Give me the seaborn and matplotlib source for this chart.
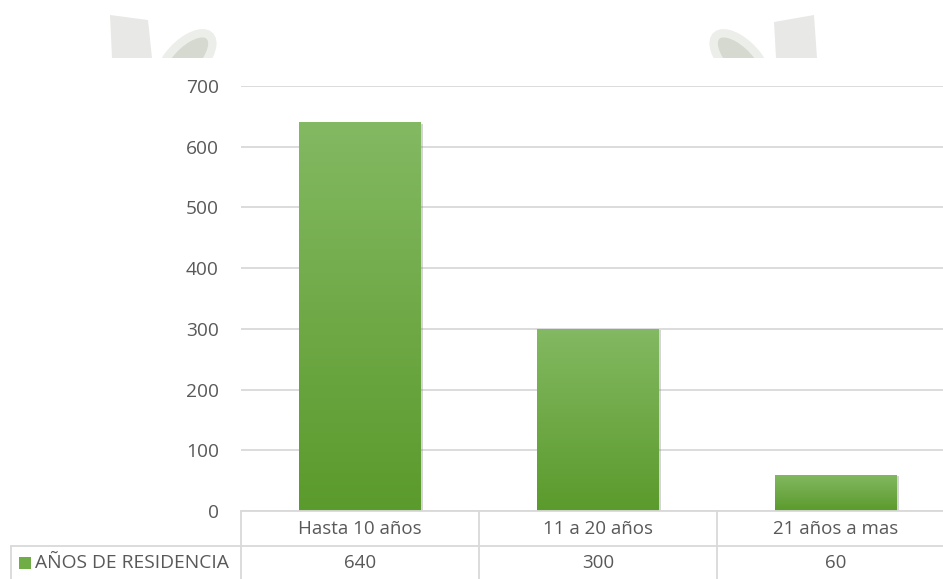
import numpy as np
import pandas as pd
import matplotlib
matplotlib.use("Agg")
import matplotlib.pyplot as plt
import matplotlib.patheffects as pe
from matplotlib.lines import Line2D
from matplotlib.patches import Rectangle, Polygon, Ellipse
from matplotlib.colors import LinearSegmentedColormap
import seaborn as sns

categories = ["Hasta 10 años", "11 a 20 años", "21 años a mas"]
values = [640, 300, 60]
series_name = "AÑOS DE RESIDENCIA"
yticks = [0, 100, 200, 300, 400, 500, 600, 700]

sns.set_theme(style="white")
plt.rcParams["font.family"] = ["Open Sans", "DejaVu Sans"]

TXT = "#595959"
GRID = "#d9d9d9"

W, H = 943, 579
fig = plt.figure(figsize=(W / 100, H / 100), dpi=100)
fig.patch.set_facecolor("white")

def fx(x): return x / W
def fy(y): return 1 - y / H

AX_L, AX_R = 241, 955
ax = fig.add_axes([fx(AX_L), fy(511), fx(AX_R - AX_L), fy(86) - fy(511)])
df = pd.DataFrame({"cat": categories, "val": values})
sns.barplot(data=df, x="cat", y="val", ax=ax, color="#70ad47", width=0.51,
            saturation=1, zorder=3, edgecolor="none")
ax.set_ylim(0, 700)
ax.set_xlim(-0.5, 2.5)
ax.set_yticks(yticks)
ax.set_yticklabels([str(v) for v in yticks], fontsize=13.8, color=TXT)
ax.tick_params(axis="y", length=0, pad=16)
ax.set_xticks([])
ax.set_xlabel("")
ax.set_ylabel("")
for s in ax.spines.values():
    s.set_visible(False)
ax.yaxis.grid(True, color=GRID, linewidth=1.3, zorder=0)
ax.set_axisbelow(True)

cmap = LinearSegmentedColormap.from_list("g", ["#5b9a2c", "#83b962"])
grad = np.linspace(0, 1, 256).reshape(-1, 1)
for p in list(ax.patches):
    x0, y0 = p.get_x(), p.get_y()
    w, h = p.get_width(), p.get_height()
    p.set_path_effects([pe.SimplePatchShadow(offset=(1.5, -1), shadow_rgbFace="#888888", alpha=0.35), pe.Normal()])
    im = ax.imshow(grad, extent=[x0, x0 + w, y0, y0 + h], origin="lower",
                   cmap=cmap, aspect="auto", zorder=4)
    im.set_clip_path(p)
ax.set_xlim(-0.5, 2.5)
ax.set_ylim(0, 700)

# data table
colw = (AX_R - AX_L) / 3
vlines = [AX_L + i * colw for i in range(4)]
lines = [
    ((AX_L, AX_R), (511, 511)),
    ((11, AX_R), (546, 546)),
    ((11, 11), (546, 580)),
] + [((v, v), (511, 580)) for v in vlines]
for xs, ys in lines:
    fig.add_artist(Line2D([fx(xs[0]), fx(xs[1])], [fy(ys[0]), fy(ys[1])],
                          color=GRID, linewidth=1.3, transform=fig.transFigure))

centers = [AX_L + (i + 0.5) * colw for i in range(3)]
for c, cat, v in zip(centers, categories, values):
    fig.text(fx(c), fy(529), cat, ha="center", va="center", fontsize=13.5, color=TXT)
    fig.text(fx(c), fy(563), str(v), ha="center", va="center", fontsize=13.5, color=TXT)
fig.add_artist(Rectangle((fx(19), fy(569)), fx(12), fy(557) - fy(569),
                         facecolor="#70ad47", edgecolor="none", transform=fig.transFigure))
fig.text(fx(35), fy(563), series_name, ha="left", va="center", fontsize=13.9, color=TXT)

# faint decorative shapes at top (cropped at y=58)
clip = Rectangle((0, fy(58)), 1, 1 - fy(58), transform=fig.transFigure,
                 facecolor="none", edgecolor="none")
fig.add_artist(clip)
for pts, ell in [
    ([(110, 15), (148, 20), (152, 58), (112, 58)], (186, 60, 38, 58, -25)),
    ([(774, 22), (814, 15), (817, 58), (776, 58)], (740, 60, 38, 58, 25)),
]:
    fig.add_artist(Polygon([(fx(a), fy(b)) for a, b in pts], closed=True,
                           facecolor="#e8e9e6", edgecolor="none", transform=fig.transFigure))
    e = Ellipse((fx(ell[0]), fy(ell[1])), fx(ell[2]), fy(0) - fy(ell[3]),
                angle=ell[4], facecolor="#d6d9d0", edgecolor="#eceeea", linewidth=6,
                transform=fig.transFigure)
    fig.add_artist(e)
    e.set_clip_path(clip)

fig.savefig("out.png", dpi=100, facecolor="white")
